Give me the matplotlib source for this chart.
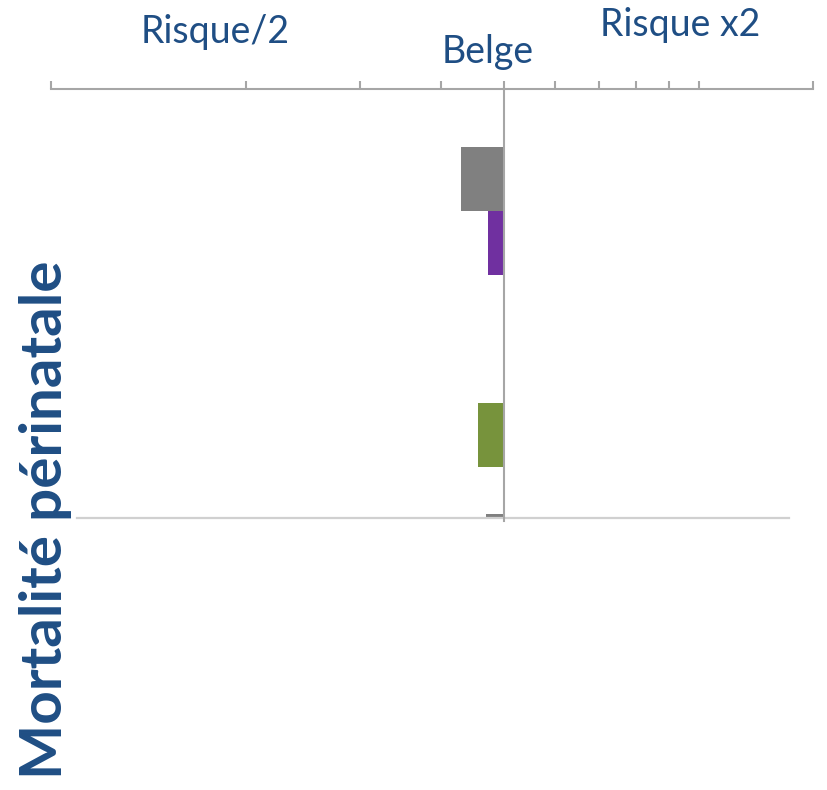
import numpy as np
import matplotlib.pyplot as plt

# log-scale ticks along the top axis (relative risk)
ticks = [0.2, 0.4, 0.6, 0.8, 1, 1.2, 1.4, 1.6, 1.8, 2, 3]

# bars: row position, relative risk, colour
rows = [1, 2, 5, 6.27]
values = [0.857, 0.946, 0.913, 0.938]
colors = ['#808080', '#7030a0', '#77933c', '#808080']
heights = [1.0, 1.0, 1.0, 0.06]

blue = '#1f4e84'
grid = '#a6a6a6'

fig = plt.figure(figsize=(8.27, 7.9), dpi=100)
ax = fig.add_axes([50.7 / 827, 1 - 518 / 790, (813 - 50.7) / 827, (518 - 89) / 790])

ax.set_xscale('log')
ax.set_xlim(0.1995, 3)
ax.set_ylim(6.3, -0.406)

for r, v, c, h in zip(rows, values, colors, heights):
    ax.barh(r, v - 1, left=1, height=h, color=c, edgecolor='none')

# reference line at 1 (Belge)
ax.axvline(1, ymin=-0.008, ymax=1, color=grid, lw=1.5, clip_on=False, zorder=3)
# light baseline
ax.axhline(6.3, xmin=0.0345, xmax=0.9685, color='#d0d0d0', lw=1.6, clip_on=False)

ax.xaxis.set_ticks_position('top')
ax.set_xticks(ticks)
ax.set_xticklabels([])
ax.xaxis.set_minor_locator(plt.NullLocator())
ax.tick_params(axis='x', which='major', direction='out', length=6, width=1.5, color=grid)
ax.set_yticks([])
for s in ['left', 'right', 'bottom']:
    ax.spines[s].set_visible(False)
ax.spines['top'].set_color(grid)
ax.spines['top'].set_linewidth(1.5)

fig.text(215 / 827, 1 - 32 / 790, 'Risque/2', ha='center', va='center',
         fontsize=27, color=blue, family='Lato')
fig.text(488 / 827, 1 - 52 / 790, 'Belge', ha='center', va='center',
         fontsize=27, color=blue, family='Lato')
fig.text(680 / 827, 1 - 25 / 790, 'Risque x2', ha='center', va='center',
         fontsize=27, color=blue, family='Lato')
fig.text(46 / 827, 1 - 520 / 790, 'Mortalité périnatale', ha='center', va='center',
         rotation=90, fontsize=42, fontweight='bold', color=blue, family='Lato')

fig.savefig('out.png', dpi=100)
